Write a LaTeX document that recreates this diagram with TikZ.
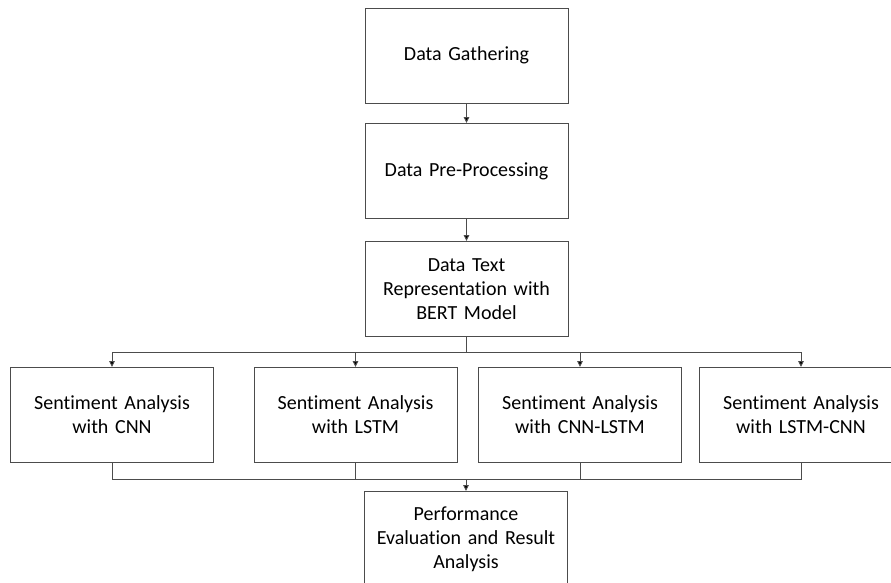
\documentclass[tikz,border=0pt]{standalone}
\usepackage{fontspec}
\setmainfont[Ligatures=NoCommon,WordSpace=0.85]{Carlito}
\usetikzlibrary{arrows.meta}
\begin{document}
\begin{tikzpicture}[x=1pt,y=-1pt,
  stagebox/.style={draw=black!70, line width=0.95pt, minimum width=203pt, minimum height=95pt,
    inner sep=0pt, align=center, text width=190pt, font=\fontsize{20}{24}\selectfont, text=black},
  link/.style={draw=black!70, line width=0.95pt},
  flow/.style={link, -{Triangle[length=6pt,width=5.5pt,fill=black]}}]
  \clip (0,0) rectangle (891,583);
  \fill[white] (0,0) rectangle (891,583);

  % main pipeline
  \node[stagebox] (gather) at (466.5,55.5) {Data Gathering};
  \node[stagebox] (prep)   at (466.5,171)  {Data Pre-Processing};
  \node[stagebox] (bert)   at (466.5,289)  {Data Text\\Representation with\\BERT Model};

  % model branches
  \node[stagebox] (cnn)     at (112,415)   {Sentiment Analysis\\with CNN};
  \node[stagebox] (lstm)    at (355.5,415) {Sentiment Analysis\\with LSTM};
  \node[stagebox] (cnnlstm) at (580,415)   {Sentiment Analysis\\with CNN-LSTM};
  \node[stagebox] (lstmcnn) at (801,415)   {Sentiment Analysis\\with LSTM-CNN};

  % evaluation
  \node[stagebox] (eval) at (466,539) {Performance\\Evaluation and Result\\Analysis};

  \coordinate (split) at (466,352);
  \coordinate (merge) at (466,479);

  \draw[flow] (gather) -- (prep);
  \draw[flow] (prep) -- (bert);
  \draw[link] (bert.south -| split) -- (split);
  \draw[flow] (split) -| (cnn.north);
  \draw[flow] (split) -| (lstm.north);
  \draw[flow] (split) -| (cnnlstm.north);
  \draw[flow] (split) -| (lstmcnn.north);

  \draw[link] (cnn.south) |- (merge);
  \draw[link] (lstm.south) |- (merge);
  \draw[link] (cnnlstm.south) |- (merge);
  \draw[link] (lstmcnn.south) |- (merge);
  \draw[flow] (merge) -- (eval.north -| merge);
\end{tikzpicture}
\end{document}
